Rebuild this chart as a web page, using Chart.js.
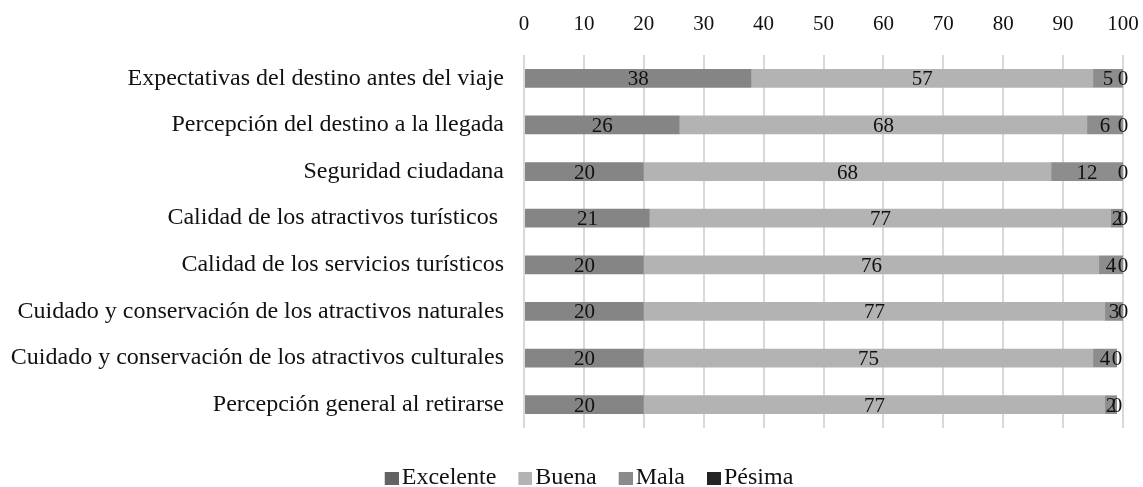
<!DOCTYPE html>
<html>
<head>
<meta charset="utf-8">
<script src="https://cdn.jsdelivr.net/npm/chart.js@4/dist/chart.umd.min.js"></script>
<style>
html,body{margin:0;padding:0;background:#fff;}
#wrap{width:1143px;height:487px;position:relative;}
</style>
</head>
<body>
<div id="wrap"><canvas id="c" width="1143" height="487"></canvas></div>
<script>
const categories = [
  "Expectativas del destino antes del viaje",
  "Percepción del destino a la llegada",
  "Seguridad ciudadana",
  "Calidad de los atractivos turísticos ",
  "Calidad de los servicios turísticos",
  "Cuidado y conservación de los atractivos naturales",
  "Cuidado y conservación de los atractivos culturales",
  "Percepción general al retirarse"
];
const excelente = [38, 26, 20, 21, 20, 20, 20, 20];
const buena     = [57, 68, 68, 77, 76, 77, 75, 77];
const mala      = [5, 6, 12, 2, 4, 3, 4, 2];
const pesima    = [0, 0, 0, 0, 0, 0, 0, 0];
const seriesNames = ["Excelente", "Buena", "Mala", "Pésima"];
const xTicks = [0, 10, 20, 30, 40, 50, 60, 70, 80, 90, 100];

const barColors = ["#858585", "#b3b3b3", "#8d8d8d", "#232323"];
const legendColors = ["#636363", "#b3b3b3", "#8a8a8a", "#232323"];
const FONT = "'Liberation Serif', 'Times New Roman', serif";
const TXT = "#111111";

// legend swatch images: square placed at right part so it sits close to the text
function swatch(color) {
  const c = document.createElement('canvas');
  c.width = 32; c.height = 13;
  const g = c.getContext('2d');
  g.fillStyle = color;
  g.fillRect(18, 0, 14, 13);
  return c;
}
const swatches = legendColors.map(swatch);

const labelPlugin = {
  id: 'segLabels',
  afterDatasetsDraw(chart) {
    const ctx = chart.ctx;
    ctx.save();
    ctx.font = "21px " + FONT;
    ctx.fillStyle = TXT;
    ctx.textAlign = "center";
    ctx.textBaseline = "middle";
    chart.data.datasets.forEach((ds, di) => {
      const meta = chart.getDatasetMeta(di);
      meta.data.forEach((el, i) => {
        const v = ds.data[i];
        const cx = (el.x + el.base) / 2;
        ctx.fillText(String(v), cx, el.y + 1.5);
      });
    });
    ctx.restore();
  }
};

new Chart(document.getElementById('c'), {
  type: 'bar',
  data: {
    labels: categories,
    datasets: [
      { label: seriesNames[0], data: excelente, backgroundColor: barColors[0] },
      { label: seriesNames[1], data: buena, backgroundColor: barColors[1] },
      { label: seriesNames[2], data: mala, backgroundColor: barColors[2] },
      { label: seriesNames[3], data: pesima, backgroundColor: barColors[3] }
    ]
  },
  options: {
    indexAxis: 'y',
    responsive: false,
    animation: false,
    layout: { padding: { top: 0, right: -20, left: 6, bottom: -13 } },
    datasets: { bar: { barPercentage: 0.4, categoryPercentage: 1.0, borderWidth: 0 } },
    scales: {
      x: {
        position: 'top',
        stacked: true,
        min: 0, max: 100,
        afterBuildTicks(axis) { axis.ticks = xTicks.map(v => ({ value: v })); },
        afterFit(scale) { scale.height = 55; scale.paddingRight = 20; },
        grid: { color: "#d9d9d9", lineWidth: 2, drawTicks: false },
        border: { display: false },
        ticks: { color: TXT, font: { family: FONT, size: 21 }, padding: 18, maxRotation: 0 }
      },
      y: {
        stacked: true,
        afterFit(scale) { scale.width = 518; },
        grid: { display: false, drawTicks: false },
        border: { display: false },
        ticks: { color: TXT, font: { family: FONT, size: 24 }, padding: 20 }
      }
    },
    plugins: {
      legend: {
        position: 'bottom',
        title: { display: true, text: ' ', font: { size: 10 }, padding: { top: 13, bottom: 0 } },
        labels: {
          font: { family: FONT, size: 24 },
          color: TXT,
          usePointStyle: true,
          pointStyleWidth: 14,
          boxWidth: 14, boxHeight: 13,
          padding: 13,
          generateLabels(chart) {
            return chart.data.datasets.map((ds, i) => ({
              text: ds.label, fillStyle: legendColors[i], strokeStyle: legendColors[i],
              pointStyle: swatches[i],
              lineWidth: 0, hidden: false, datasetIndex: i, fontColor: TXT
            }));
          }
        }
      },
      tooltip: { enabled: false }
    }
  },
  plugins: [labelPlugin]
});
</script>
</body>
</html>
